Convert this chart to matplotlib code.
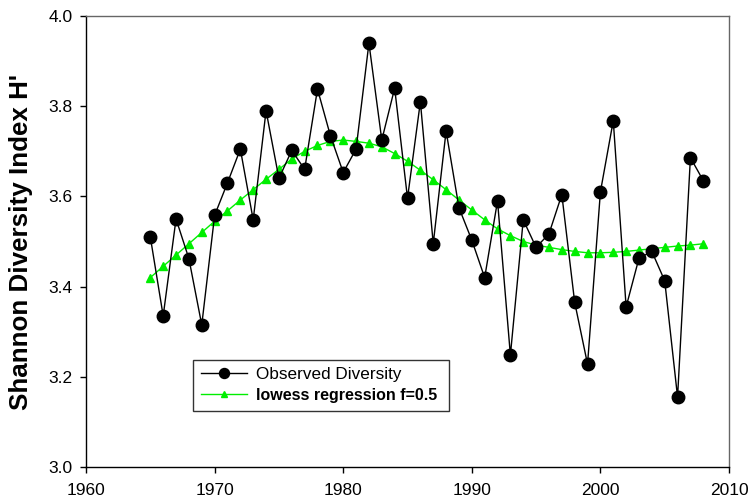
import matplotlib
matplotlib.use("Agg")
import matplotlib.pyplot as plt

plt.rcParams['font.family'] = ['Liberation Sans', 'DejaVu Sans']

years = list(range(1965, 2009))
observed = [3.510, 3.335, 3.550, 3.462, 3.315, 3.558, 3.630, 3.705, 3.548, 3.790,
            3.640, 3.702, 3.660, 3.838, 3.735, 3.653, 3.705, 3.940, 3.725, 3.840,
            3.596, 3.810, 3.495, 3.745, 3.575, 3.503, 3.420, 3.590, 3.248, 3.548,
            3.487, 3.517, 3.604, 3.365, 3.228, 3.610, 3.768, 3.355, 3.463, 3.478,
            3.413, 3.155, 3.686, 3.635]
lowess = [3.420, 3.445, 3.470, 3.495, 3.520, 3.545, 3.568, 3.592, 3.615, 3.638,
          3.660, 3.683, 3.700, 3.713, 3.722, 3.725, 3.722, 3.718, 3.710, 3.695,
          3.678, 3.658, 3.637, 3.615, 3.592, 3.570, 3.548, 3.528, 3.513, 3.500,
          3.492, 3.487, 3.482, 3.478, 3.475, 3.475, 3.476, 3.478, 3.481, 3.484,
          3.487, 3.490, 3.492, 3.495]

fig = plt.figure(figsize=(7.5, 5.01), dpi=100)
ax = fig.add_axes([0.1147, 0.0679, 0.8573, 0.9001])

ax.plot(years, observed, color='black', lw=1.0, marker='o', markersize=9,
        markerfacecolor='black', markeredgecolor='black', label='Observed Diversity', zorder=3)
ax.plot(years, lowess, color='#00ee00', lw=1.0, marker='^', markersize=6.2,
        markerfacecolor='#00ee00', markeredgecolor='#00ee00',
        label='lowess regression f=0.5', zorder=2)

ax.set_xlim(1960, 2010)
ax.set_ylim(3.0, 4.0)
ax.set_xticks([1960, 1970, 1980, 1990, 2000, 2010])
ax.set_yticks([3.0, 3.2, 3.4, 3.6, 3.8, 4.0])
ax.set_yticklabels(['3.0', '3.2', '3.4', '3.6', '3.8', '4.0'])
ax.tick_params(direction='out', length=4.5, width=1, labelsize=12.5, top=False, right=False)
ax.tick_params(axis='x', pad=7)
ax.tick_params(axis='y', pad=5)
for s in ['top', 'right']:
    ax.spines[s].set_color('#666666')
for s in ['left', 'bottom']:
    ax.spines[s].set_color('black')
for s in ax.spines.values():
    s.set_linewidth(1.0)

ax.set_ylabel("Shannon Diversity Index H'", fontsize=18.7, fontweight='bold')
ax.yaxis.set_label_coords(-0.083, 0.5)

leg = ax.legend(loc='lower left', bbox_to_anchor=(0.1664, 0.124, 0.398, 0.131),
                mode='expand', fancybox=False, framealpha=1, edgecolor='#333333',
                fontsize=12.3, handlelength=2.7, handletextpad=0.55, borderpad=0.45,
                labelspacing=0.35, markerscale=0.8, borderaxespad=0)
leg.get_frame().set_linewidth(1.0)
texts = leg.get_texts()
texts[1].set_fontweight('bold')
texts[1].set_fontsize(11.5)

fig.savefig('out.png', dpi=100)
